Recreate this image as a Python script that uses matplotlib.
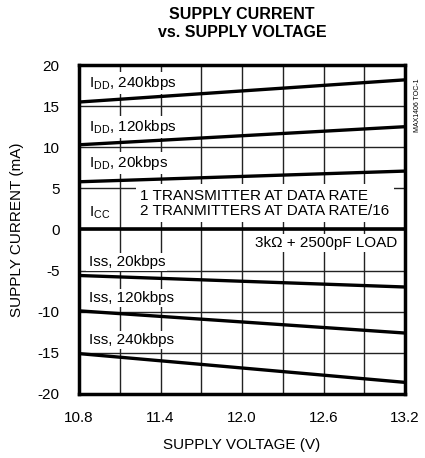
import matplotlib
matplotlib.use("Agg")
import matplotlib.pyplot as plt
from matplotlib.ticker import MultipleLocator

plt.rcParams['font.family'] = ['Liberation Sans', 'DejaVu Sans']
plt.rcParams['mathtext.fontset'] = 'custom'
plt.rcParams['mathtext.rm'] = 'Liberation Sans'
plt.rcParams['axes.unicode_minus'] = False

# supply voltage (V) at the ends of each curve
volts = [10.8, 13.2]
# supply current (mA)
idd_240 = [15.5, 18.2]
idd_120 = [10.3, 12.5]
idd_20 = [5.8, 7.1]
iss_20 = [-5.6, -7.0]
iss_120 = [-9.9, -12.6]
iss_240 = [-15.1, -18.6]

fig = plt.figure(figsize=(4.25, 4.58), dpi=100)
ax = fig.add_axes([0.186, 0.14, 0.767, 0.718])

for curve in [idd_240, idd_120, idd_20, iss_20, iss_120, iss_240]:
    ax.plot(volts, curve, color='black', lw=2.4, zorder=4, solid_capstyle='butt')
ax.axhline(0, color='black', lw=2.6, zorder=4)

ax.set_xlim(10.8, 13.2)
ax.set_ylim(-20, 20)
ax.xaxis.set_major_locator(MultipleLocator(0.6))
ax.xaxis.set_minor_locator(MultipleLocator(0.3))
ax.yaxis.set_major_locator(MultipleLocator(5))
ax.xaxis.set_major_formatter(plt.FormatStrFormatter('%.1f'))
ax.grid(True, which='both', color='#222222', lw=1.0, zorder=1)
ax.set_axisbelow(True)
ax.tick_params(which='both', length=0, labelsize=11)
ax.tick_params(axis='y', pad=14)
ax.tick_params(axis='x', pad=12)
for s in ax.spines.values():
    s.set_linewidth(2.5)

box = dict(facecolor='white', edgecolor='none', pad=1.5)
lab = dict(fontsize=11, va='center', ha='left', zorder=3, bbox=box)
ax.text(10.87, 17.8, r'I$_\mathrm{DD}$, 240kbps', **lab)
ax.text(10.87, 12.5, r'I$_\mathrm{DD}$, 120kbps', **lab)
ax.text(10.87, 8.1, r'I$_\mathrm{DD}$, 20kbps', **lab)
ax.text(10.87, 2.0, r'I$_\mathrm{CC}$', fontsize=11, va='center', ha='left')
ax.text(11.25, 3.2, '1 TRANSMITTER AT DATA RATE\n2 TRANMITTERS AT DATA RATE/16',
        fontsize=11, va='center', ha='left', linespacing=1.1, zorder=3,
        bbox=dict(facecolor='white', edgecolor='none', pad=3))
ax.text(13.14, -1.65, u'3k\u03a9 + 2500pF LOAD', fontsize=11, va='center',
        ha='right', zorder=3, bbox=box)
ax.text(10.87, -4.0, 'Iss, 20kbps', **lab)
ax.text(10.87, -8.35, 'Iss, 120kbps', **lab)
ax.text(10.87, -13.45, 'Iss, 240kbps', **lab)

ax.set_xlabel('SUPPLY VOLTAGE (V)', fontsize=11, labelpad=10)
ax.set_ylabel('SUPPLY CURRENT (mA)', fontsize=11, labelpad=10)
fig.text(0.57, 0.985, 'SUPPLY CURRENT\nvs. SUPPLY VOLTAGE', ha='center', va='top',
         fontsize=11.5, fontweight='bold', linespacing=1.25)
fig.text(0.982, 0.77, 'MAX1406 TOC-1', rotation=90, fontsize=5, ha='center', va='center')

fig.savefig('out.png', dpi=100)
